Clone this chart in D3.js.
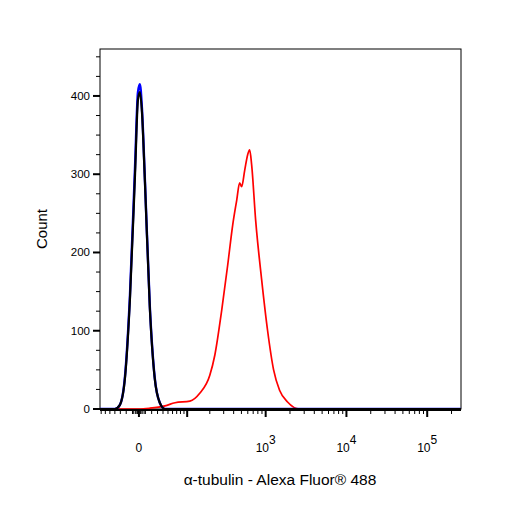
<!DOCTYPE html>
<html><head><meta charset="utf-8">
<script src="https://cdn.jsdelivr.net/npm/d3@7"></script>
<style>body{margin:0;background:#fff}text{font-family:"Liberation Sans",Arial,sans-serif}</style>
</head><body><svg id="c" width="506" height="506"></svg>
<script>
const redX=[-73,0,17,44,66,109,148,200,232,284,337,389,437,475,503,549,598,633,670,750,890,1057,1254,1486,1867,2626,262000];
const redY=[0,0,1,4,8,10,20,43,69,127,184,235,267,289,284,305,325,331,312,242,166,100,50,24,9,0,0];
const ctrlX=[-73,-40,-31,-22,-14,-6,-1.5,1.5,4.6,9.3,17,25,34,44,66,262000];
const blackY=[0,0,5,40,140,300,395,405,380,290,130,40,8,0,0,0];
const blueY=[0,0,5,42,145,310,405,415,385,292,132,41,8,0,0,0];
const yTicks=[0,100,200,300,400];
const xMajor=[0,100,1000,10000,100000];
const xLabels=[[0,"0",""],[1000,"10","3"],[10000,"10","4"],[100000,"10","5"]];

const svg=d3.select("#c");
const L=100,R=461,T=49,B=409;
const C=54;
const tf=v=>Math.asinh(v/C)/Math.LN10;
const tx=d3.scaleLinear().domain([tf(-73),tf(262000)]).range([L,R]);
const x=v=>tx(tf(v));
const y=d3.scaleLinear().domain([0,460]).range([B,T]);

svg.append("rect").attr("x",L).attr("y",T).attr("width",R-L).attr("height",B-T).attr("fill","none").attr("stroke","#000").attr("stroke-width",1);

const line=(xs,ys)=>d3.line().x((d,i)=>x(xs[i])).y(d=>y(d)).curve(d3.curveMonotoneX)(ys);
svg.append("path").attr("d",line(redX,redY)).attr("fill","none").attr("stroke","#f00").attr("stroke-width",1.7);
svg.append("path").attr("d",line(ctrlX,blueY)).attr("fill","none").attr("stroke","#00f").attr("stroke-width",2.4);
svg.append("path").attr("d",line(ctrlX,blackY)).attr("fill","none").attr("stroke","#000").attr("stroke-width",2.2);

const yMinor=d3.range(0,451,25);
yMinor.forEach(v=>{const maj=v%100===0;
 svg.append("line").attr("x1",L).attr("x2",L-(maj?7:4)).attr("y1",y(v)).attr("y2",y(v)).attr("stroke","#000").attr("stroke-width",maj?2:1);});
yTicks.forEach(v=>svg.append("text").attr("x",L-10).attr("y",y(v)+4).attr("text-anchor","end").attr("font-size",11.5).text(v));
svg.append("text").attr("transform","translate(47,229) rotate(-90)").attr("text-anchor","middle").attr("font-size",15).text("Count");

svg.append("line").attr("x1",L).attr("x2",R).attr("y1",B+1).attr("y2",B+1).attr("stroke","#000").attr("stroke-width",2);
const minors=[];
[-1,1].forEach(s=>{for(let m=1;m<10;m++)minors.push(s*m*10);});
[100,1000,10000,100000].forEach(d=>{for(let m=2;m<10;m++)minors.push(m*d);});
minors.concat([-5,-3,3,5,-8,8,-2,2]).forEach(v=>{const px=x(v);if(px<L||px>R)return;
 svg.append("line").attr("x1",px).attr("x2",px).attr("y1",B+1).attr("y2",B+5).attr("stroke","#000").attr("stroke-width",1);});
xMajor.forEach(v=>svg.append("line").attr("x1",x(v)).attr("x2",x(v)).attr("y1",B+1).attr("y2",B+8).attr("stroke","#000").attr("stroke-width",2));
xLabels.forEach(([v,b,e])=>{const t=svg.append("text").attr("x",x(v)).attr("y",452).attr("text-anchor","middle").attr("font-size",12);
 t.append("tspan").text(b); if(e) t.append("tspan").attr("dy",-8).attr("font-size",12).text(e);});
svg.append("text").attr("x",280).attr("y",485).attr("text-anchor","middle").attr("font-size",15.5).text("α-tubulin - Alexa Fluor® 488");
</script></body></html>
